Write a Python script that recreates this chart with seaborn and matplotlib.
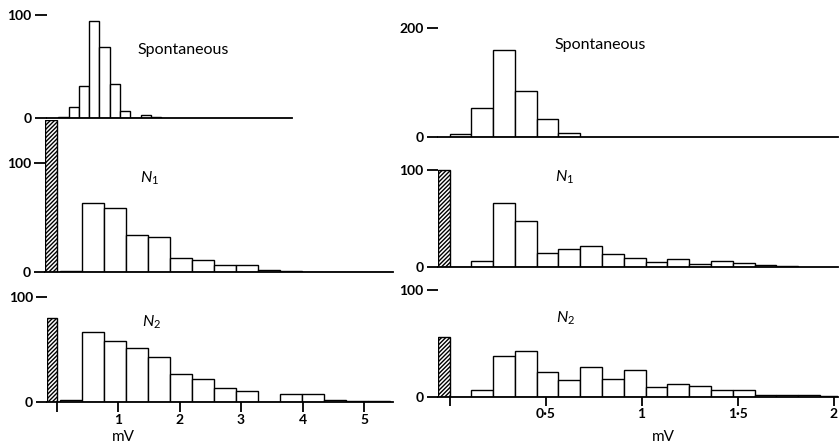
import matplotlib
matplotlib.use("Agg")
import matplotlib.pyplot as plt
import numpy as np
import pandas as pd
import seaborn as sns

# ---------------- data ----------------
# left column: amplitude bins in mV
left_spont_start, left_spont_width = 0.03, 0.167
left_spont_counts = [1, 11, 31, 94, 69, 33, 7, 0, 3, 1]
left_n_start, left_n_width = 0.06, 0.357
left_n1_counts = [1, 63, 59, 34, 32, 13, 11, 6, 6, 2, 1, 0, 0, 0, 0]
left_n2_counts = [2, 66, 58, 51, 43, 26, 22, 13, 10, 0, 7, 7, 2, 1, 1]
left_n1_failures = 140
left_n2_failures = 80
left_xticks = [0, 1, 2, 3, 4, 5]
left_xticklabels = ["", "1", "2", "3", "4", "5"]

# right column
right_start, right_width = 0.0, 0.1135
right_spont_counts = [5, 53, 160, 85, 32, 7]
right_n1_counts = [0, 6, 66, 47, 14, 18, 21, 13, 9, 5, 8, 3, 6, 4, 2, 1]
right_n2_counts = [0, 6, 38, 43, 23, 16, 28, 17, 25, 9, 12, 10, 6, 6, 2, 2, 2, 1]
right_n1_failures = 100
right_n2_failures = 56
right_xticks = [0, 0.5, 1, 1.5, 2]
right_xticklabels = ["", "0\u00b75", "1", "1\u00b75", "2"]

panel_titles = ["Spontaneous", r"$N_1$", r"$N_2$"]
x_label = "mV"

# ---------------- style ----------------
sns.set_theme(style="white")
plt.rcParams["font.family"] = ["Lato", "DejaVu Sans"]
plt.rcParams["mathtext.fontset"] = "custom"
plt.rcParams["mathtext.it"] = "Lato:italic"
plt.rcParams["mathtext.rm"] = "Lato"
plt.rcParams["hatch.linewidth"] = 1.0
plt.rcParams["hatch.color"] = "black"

W, H = 840, 447
fig = plt.figure(figsize=(W / 100, H / 100), dpi=100)
fig.patch.set_facecolor("white")


def make_axes(Lpx, Rpx, zero_px, ymax, px_per_count, x0_px, px_per_mv):
    top_px = zero_px - ymax * px_per_count
    ax = fig.add_axes([Lpx / W, 1 - zero_px / H, (Rpx - Lpx) / W, (zero_px - top_px) / H])
    ax.set_xlim((Lpx - x0_px) / px_per_mv, (Rpx - x0_px) / px_per_mv)
    ax.set_ylim(0, ymax)
    return ax


def draw_hist(ax, start, width, counts, failures=None):
    counts = [float(c) for c in counts]
    edges = [float(start + width * i) for i in range(len(counts) + 1)]
    centers = [(a + b) / 2 for a, b in zip(edges[:-1], edges[1:])]
    df = pd.DataFrame({"amp": centers, "n": counts})
    xl, yl = ax.get_xlim(), ax.get_ylim()
    sns.histplot(data=df, x="amp", weights="n", bins=edges, ax=ax,
                 color="white", edgecolor="black", linewidth=1.0, alpha=1)
    if failures is not None:
        fd = pd.DataFrame({"amp": [xl[0] / 2], "n": [float(failures)]})
        sns.histplot(data=fd, x="amp", weights="n", bins=[float(xl[0]), 0.0], ax=ax,
                     color="white", edgecolor="black", linewidth=1.0, alpha=1,
                     hatch="////////")
    ax.set_xlim(xl)
    ax.set_ylim(yl)
    ax.set_xlabel("")
    ax.set_ylabel("")
    for s in ["top", "right", "left"]:
        ax.spines[s].set_visible(False)
    ax.spines["bottom"].set_color("black")
    ax.spines["bottom"].set_linewidth(1.3)
    ax.patch.set_alpha(0)


def style_y(ax, ticks, length):
    ax.set_yticks(ticks)
    ax.set_yticklabels([str(t) for t in ticks], fontsize=10, fontweight="bold")
    ax.tick_params(axis="y", left=True, direction="out", length=length,
                   width=1.3, color="black", pad=2, labelcolor="black")


def no_x(ax):
    ax.set_xticks([])


# left column mapping
LX0, LS = 56.5, 61.5
ax_ls = make_axes(47, 292, 118.3, 105, 1.033, LX0, LS)
ax_l1 = make_axes(45, 393, 271.7, 140, 1.084, LX0, LS)
ax_l2 = make_axes(47, 393, 401.7, 105, 1.05, LX0, LS)
# right column mapping
RX0, RS = 449.5, 192.0
ax_rs = make_axes(437.5, 838, 136.7, 215, 0.542, RX0, RS)
ax_r1 = make_axes(437.5, 838, 266.7, 102, 0.967, RX0, RS)
ax_r2 = make_axes(437.5, 838, 396.7, 105, 1.067, RX0, RS)

draw_hist(ax_ls, left_spont_start, left_spont_width, left_spont_counts)
draw_hist(ax_l1, left_n_start, left_n_width, left_n1_counts, left_n1_failures)
draw_hist(ax_l2, left_n_start, left_n_width, left_n2_counts, left_n2_failures)
draw_hist(ax_rs, right_start, right_width, right_spont_counts)
draw_hist(ax_r1, right_start, right_width, right_n1_counts, right_n1_failures)
draw_hist(ax_r2, right_start, right_width, right_n2_counts, right_n2_failures)

style_y(ax_ls, [0, 100], 9)
style_y(ax_l1, [0, 100], 8)
style_y(ax_l2, [0, 100], 8)
style_y(ax_rs, [0, 200], 8)
style_y(ax_r1, [0, 100], 8)
style_y(ax_r2, [0, 100], 8)

for ax in (ax_ls, ax_l1, ax_rs, ax_r1):
    no_x(ax)

ax_l2.set_xticks(left_xticks)
ax_l2.set_xticklabels(left_xticklabels, fontsize=10, fontweight="bold")
ax_l2.tick_params(axis="x", bottom=True, direction="out", length=7, width=1.3,
                  color="black", pad=1.5, labelcolor="black")
ax_r2.set_xticks(right_xticks)
ax_r2.set_xticklabels(right_xticklabels, fontsize=10, fontweight="bold")
ax_r2.tick_params(axis="x", bottom=True, direction="out", length=6.5, width=1.3,
                  color="black", pad=1.5, labelcolor="black")


def ftext(xpx, ypx, s, **kw):
    fig.text(xpx / W, 1 - ypx / H, s, ha="center", va="center", color="black", **kw)


ftext(183.5, 50, panel_titles[0], fontsize=11.5)
ftext(600.5, 45, panel_titles[0], fontsize=11.5)
ftext(150, 178, panel_titles[1], fontsize=11.5)
ftext(152, 322, panel_titles[2], fontsize=11.5)
ftext(565, 177, panel_titles[1], fontsize=11.5)
ftext(566, 318, panel_titles[2], fontsize=11.5)
ftext(123, 437, x_label, fontsize=11)
ftext(663, 437, x_label, fontsize=11)

fig.savefig("out.png", dpi=100, facecolor="white")
